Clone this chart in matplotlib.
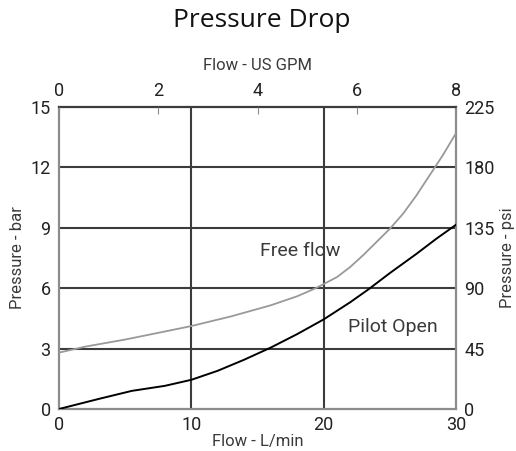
"""Pressure drop vs flow: free flow and pilot-open curves on a dual-unit grid."""

import matplotlib

matplotlib.use("Agg")
import matplotlib.pyplot as plt

plt.rcParams["font.family"] = ["Roboto", "Liberation Sans", "DejaVu Sans"]

# --- data (L/min vs bar)
free_flow_lpm = [0, 2, 5, 8, 10, 13, 16, 18, 19.4, 21, 22, 23, 24, 25, 26, 27, 28, 29, 30]
free_flow_bar = [2.8, 3.1, 3.45, 3.85, 4.12, 4.6, 5.15, 5.6, 6.0, 6.55, 7.05, 7.65,
                 8.3, 8.95, 9.7, 10.6, 11.6, 12.6, 13.7]

pilot_lpm = [0, 3, 5.5, 8, 10, 12, 14, 16, 18, 20, 22, 23.4, 25, 27, 28.5, 30]
pilot_bar = [0, 0.5, 0.9, 1.15, 1.45, 1.9, 2.45, 3.05, 3.72, 4.45, 5.3, 5.95, 6.75,
             7.7, 8.45, 9.15]

lpm_ticks = [0, 10, 20, 30]
bar_ticks = [0, 3, 6, 9, 12, 15]
gpm_ticks = [0, 2, 4, 6, 8]
psi_ticks = [0, 45, 90, 135, 180, 225]

GRID = "#3c3c3c"
FRAME = "#8c8c8c"
TEXT = "#222222"
LABEL = "#3a3a3a"

fig = plt.figure(figsize=(5.16, 4.51), dpi=100)
ax = fig.add_axes([59 / 516, 42 / 451, 397 / 516, 302 / 451])

ax.set_xlim(0, 30)
ax.set_ylim(0, 15)

# heavy grid lines
for x in (10, 20):
    ax.axvline(x, color=GRID, linewidth=1.5, zorder=1)
for y in (3, 6, 9, 12):
    ax.axhline(y, color=GRID, linewidth=1.5, zorder=1)

ax.plot(free_flow_lpm, free_flow_bar, color="#999999", linewidth=1.3, zorder=3)
ax.plot(pilot_lpm, pilot_bar, color="black", linewidth=1.4, zorder=3)

ax.text(18.2, 7.85, "Free flow", fontsize=14, color=LABEL, ha="center", va="center")
ax.text(25.2, 4.07, "Pilot Open", fontsize=14, color=LABEL, ha="center", va="center")

for side in ("left", "right", "bottom"):
    ax.spines[side].set_color(FRAME)
    ax.spines[side].set_linewidth(1.6)
ax.spines["top"].set_color(GRID)
ax.spines["top"].set_linewidth(1.6)

ax.set_xticks(lpm_ticks)
ax.set_yticks(bar_ticks)
ax.tick_params(axis="x", length=0, labelsize=13, colors=TEXT, pad=5)
ax.tick_params(axis="y", length=0, labelsize=13, colors=TEXT, pad=6)
ax.set_xlabel("Flow - L/min", fontsize=12, color=LABEL, labelpad=0)
ax.set_ylabel("Pressure - bar", fontsize=12, color=LABEL, labelpad=4)

# top axis: US GPM
top = ax.twiny()
top.set_xlim(0, 8)
top.set_xticks(gpm_ticks)
top.tick_params(length=5, width=0.8, color=FRAME, direction="in", labelsize=13,
                labelcolor=TEXT, pad=5)
top.set_xlabel("Flow - US GPM", fontsize=12, color=LABEL, labelpad=9)
for s in top.spines.values():
    s.set_visible(False)

# right axis: psi
right = ax.twinx()
right.set_ylim(0, 225)
right.set_yticks(psi_ticks)
right.tick_params(length=0, labelsize=13, labelcolor=TEXT, pad=6)
right.set_ylabel("Pressure - psi", fontsize=12, color=LABEL, labelpad=4)
for s in right.spines.values():
    s.set_visible(False)

fig.text(0.508, 0.954, "Pressure Drop", fontsize=19, color="#111111", ha="center",
         va="center", family=["Open Sans", "DejaVu Sans"], weight="medium")

fig.savefig("out.png", dpi=100)
